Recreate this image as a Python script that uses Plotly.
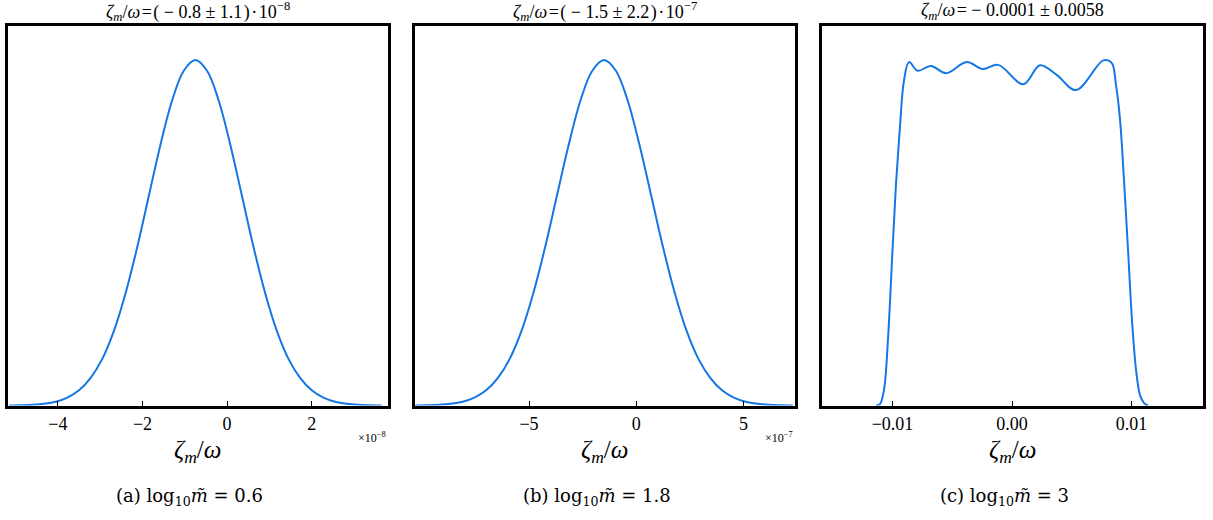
import plotly.graph_objects as go

# ---- data ----
# panel (a): x in units of 1e-8, relative density
a_x = [-5.15, -4.875, -4.6, -4.325, -4.05, -3.775, -3.5, -3.225, -2.95, -2.675, -2.4, -2.125, -1.85, -1.575,
       -1.3, -1.025, -0.75, -0.475, -0.2, 0.075, 0.35, 0.625, 0.9, 1.175, 1.45, 1.725, 2.0, 2.275, 2.55,
       2.825, 3.1, 3.375, 3.65]
a_y = [0.0003, 0.0009, 0.0022, 0.0051, 0.011, 0.023, 0.044, 0.080, 0.135, 0.216, 0.325, 0.458, 0.607, 0.755,
       0.883, 0.969, 1.0, 0.969, 0.883, 0.755, 0.607, 0.458, 0.325, 0.216, 0.135, 0.080, 0.044, 0.023, 0.011,
       0.0051, 0.0022, 0.0009, 0.0003]

# panel (b): x in units of 1e-7
b_x = [-10.3, -9.75, -9.2, -8.65, -8.1, -7.55, -7.0, -6.45, -5.9, -5.35, -4.8, -4.25, -3.7, -3.15,
       -2.6, -2.05, -1.5, -0.95, -0.4, 0.15, 0.7, 1.25, 1.8, 2.35, 2.9, 3.45, 4.0, 4.55, 5.1,
       5.65, 6.2, 6.75, 7.3]
b_y = [0.0003, 0.0009, 0.0022, 0.0051, 0.011, 0.023, 0.044, 0.080, 0.135, 0.216, 0.325, 0.458, 0.607, 0.755,
       0.883, 0.969, 1.0, 0.969, 0.883, 0.755, 0.607, 0.458, 0.325, 0.216, 0.135, 0.080, 0.044, 0.023, 0.011,
       0.0051, 0.0022, 0.0009, 0.0003]

# panel (c)
c_x = [-0.01138, -0.01105, -0.01071, -0.01038, -0.01004, -0.00971, -0.00937, -0.00904, -0.00862,
       -0.00789, -0.00678, -0.00552, -0.00379, -0.00245, -0.00115, 0.00095, 0.00234, 0.00374,
       0.00536, 0.00764, 0.00834, 0.0087, 0.00904, 0.00937, 0.00971, 0.01004, 0.01038, 0.01071,
       0.01105, 0.01138]
c_y = [0.0, 0.004, 0.045, 0.19, 0.42, 0.64, 0.81, 0.94, 0.994,
       0.969, 0.983, 0.962, 0.994, 0.974, 0.986, 0.930, 0.985, 0.957,
       0.913, 0.999, 0.992, 0.928, 0.827, 0.653, 0.45, 0.247, 0.103, 0.03,
       0.007, 0.0]

titles = ["<i>ζ</i><sub><i>m</i></sub>/<i>ω</i>&#8202;=&#8202;( − 0.8 ± 1.1&#8202;)&#8202;·&#8202;10<sup>−8</sup>",
          "<i>ζ</i><sub><i>m</i></sub>/<i>ω</i>&#8202;=&#8202;( − 1.5 ± 2.2&#8202;)&#8202;·&#8202;10<sup>−7</sup>",
          "<i>ζ</i><sub><i>m</i></sub>/<i>ω</i>&#8202;= − 0.0001 ± 0.0058"]
captions = ["(a) log<sub>10</sub><i>m̃</i> = 0.6",
            "(b) log<sub>10</sub><i>m̃</i> = 1.8",
            "(c) log<sub>10</sub><i>m̃</i> = 3"]
tick_vals = [[-4, -2, 0, 2], [-5, 0, 5], [-0.01, 0.0, 0.01]]
tick_text = [["−4", "−2", "0", "2"], ["−5", "0", "5"], ["−0.01", "0.00", "0.01"]]
x_ranges = [[-5.19, 3.79], [-10.34, 7.38], [-0.01594, 0.01594]]
exponents = ["×10<sup>−8</sup>", "×10<sup>−7</sup>", None]

W, H = 1213, 520
FONT = "Liberation Serif"
CAPFONT = "DejaVu Serif"
BLUE = "#1577e6"
px_dom = [(7.5, 387.5), (414.5, 794.5), (821.5, 1202.5)]
y_dom = [(H - 405.5) / H, (H - 25.5) / H]

fig = go.Figure()
series = [(a_x, a_y), (b_x, b_y), (c_x, c_y)]
annotations = []
for i, (xs, ys) in enumerate(series):
    n = "" if i == 0 else str(i + 1)
    fig.add_trace(go.Scatter(x=xs, y=ys, mode="lines", line=dict(color=BLUE, width=2, shape="spline", smoothing=1.0),
                             xaxis="x" + n, yaxis="y" + n, showlegend=False, hoverinfo="skip"))
    x0, x1 = px_dom[i]
    fig.layout["xaxis" + n] = dict(domain=[x0 / W, x1 / W], range=x_ranges[i], anchor="y" + n,
                                   showline=True, linewidth=3, linecolor="black", mirror=True,
                                   ticks="inside", ticklen=5, tickwidth=1, tickcolor="black",
                                   tickvals=tick_vals[i], ticktext=tick_text[i], showgrid=False, zeroline=False,
                                   tickfont=dict(family=FONT, size=18, color="black"))
    fig.layout["yaxis" + n] = dict(domain=list(y_dom), range=[0, 1.1], anchor="x" + n,
                                   showline=True, linewidth=3, linecolor="black", mirror=True,
                                   ticks="", showticklabels=False, showgrid=False, zeroline=False)
    cx = (x0 + x1) / 2 / W
    annotations.append(dict(text=titles[i], x=cx, y=1 - 11 / H, xref="paper", yref="paper",
                            xanchor="center", yanchor="middle", showarrow=False,
                            font=dict(family=FONT, size=18, color="black")))
    annotations.append(dict(text="<i>ζ</i><sub><i>m</i></sub>/<i>ω</i>", x=cx, y=1 - 451 / H, xref="paper", yref="paper",
                            xanchor="center", yanchor="middle", showarrow=False,
                            font=dict(family=FONT, size=25, color="black")))
    annotations.append(dict(text=captions[i], x=cx - 8 / W, y=1 - 497 / H, xref="paper", yref="paper",
                            xanchor="center", yanchor="middle", showarrow=False,
                            font=dict(family=CAPFONT, size=18, color="black")))
    if exponents[i]:
        annotations.append(dict(text=exponents[i], x=x1 / W, y=1 - 437 / H, xref="paper", yref="paper",
                                xanchor="right", yanchor="middle", showarrow=False,
                                font=dict(family=FONT, size=12, color="black")))

fig.update_layout(width=W, height=H, margin=dict(l=0, r=0, t=0, b=0),
                  paper_bgcolor="white", plot_bgcolor="white", annotations=annotations)
fig.write_html("out.html", config={"displayModeBar": False},
               post_script="document.body.style.margin='0';document.body.style.overflow='hidden';")
